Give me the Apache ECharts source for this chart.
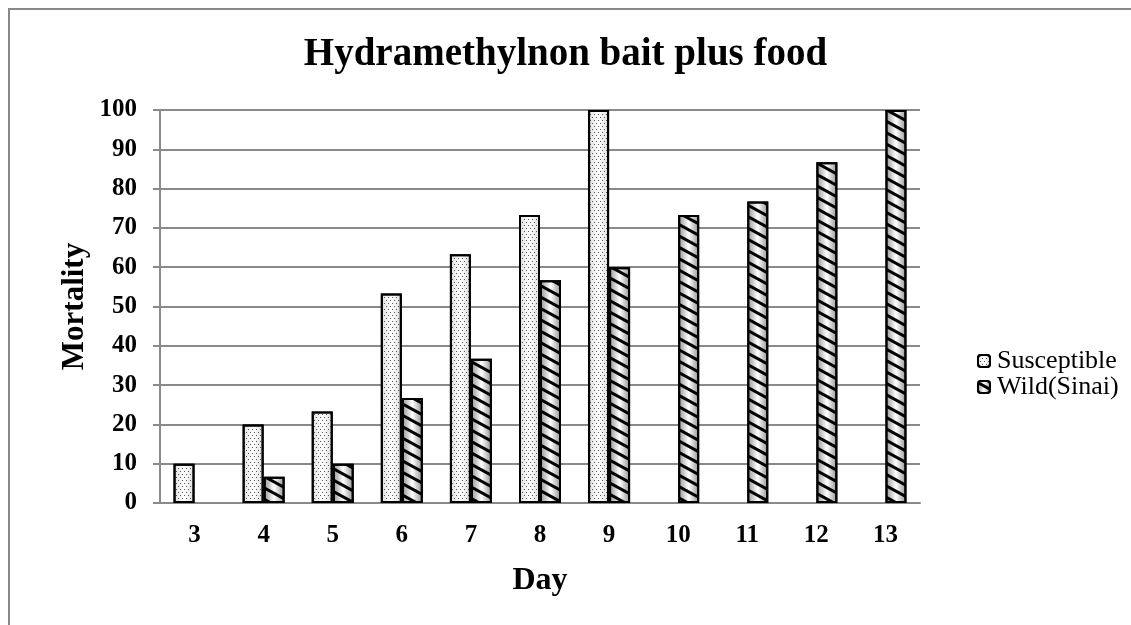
<!DOCTYPE html>
<html><head><meta charset="utf-8">
<script src="https://cdn.jsdelivr.net/npm/echarts@6/dist/echarts.min.js"></script>
<style>html,body{margin:0;padding:0;background:#fff}#c{width:1131px;height:625px}</style>
</head><body><div id="c"></div>
<script>
var days = ['3','4','5','6','7','8','9','10','11','12','13'];
var susceptible = [10, 20, 23.3, 53.3, 63.3, 73.3, 100, '-', '-', '-', '-'];
var wild = ['-', 6.7, 10, 26.7, 36.7, 56.7, 60, 73.3, 76.7, 86.7, 100];
var yTicks = {min: 0, max: 100, interval: 10};

var serif = "'Liberation Serif', 'Times New Roman', serif";
var chart = echarts.init(document.getElementById('c'), null, {renderer: 'canvas'});
var hGrad = function (edge, mid) {
  return new echarts.graphic.LinearGradient(0, 0, 1, 0, [
    {offset: 0, color: edge}, {offset: 0.5, color: mid}, {offset: 1, color: edge}
  ]);
};
chart.setOption({
  animation: false,
  backgroundColor: '#fff',
  title: {
    text: 'Hydramethylnon bait plus food',
    left: 'center', top: 30,
    textStyle: {fontFamily: serif, fontWeight: 'bold', fontSize: 39, color: '#000'}
  },
  graphic: [{
    type: 'rect', shape: {x: 9, y: 9, width: 1300, height: 800},
    style: {fill: 'none', stroke: '#888', lineWidth: 2}, z: -1
  }],
  legend: {
    orient: 'vertical', left: 972, top: 343, itemWidth: 12, itemHeight: 12, itemGap: 0,
    textStyle: {fontFamily: serif, fontSize: 26, color: '#000', lineHeight: 20, padding: [0, 0, 0, 2]},
    data: ['Susceptible', 'Wild(Sinai)']
  },
  grid: {left: 160, right: 211, top: 110, bottom: 122},
  xAxis: {
    type: 'category', data: days,
    name: 'Day', nameLocation: 'middle', nameGap: 62,
    nameTextStyle: {fontFamily: serif, fontWeight: 'bold', fontSize: 32, color: '#000'},
    axisLine: {lineStyle: {color: '#8a8a8a', width: 2}},
    axisTick: {show: false},
    axisLabel: {fontFamily: serif, fontWeight: 'bold', fontSize: 25, color: '#000', margin: 20}
  },
  yAxis: {
    type: 'value', min: yTicks.min, max: yTicks.max, interval: yTicks.interval,
    name: 'Mortality', nameLocation: 'middle', nameGap: 70, nameRotate: 90, nameMoveOverlap: false,
    nameTextStyle: {fontFamily: serif, fontWeight: 'bold', fontSize: 31, color: '#000'},
    axisLine: {show: true, lineStyle: {color: '#8a8a8a', width: 2}},
    axisTick: {show: true, length: 7, lineStyle: {color: '#8a8a8a', width: 2}},
    splitLine: {lineStyle: {color: '#8a8a8a', width: 2}},
    axisLabel: {fontFamily: serif, fontWeight: 'bold', fontSize: 25, color: '#000', margin: 23}
  },
  series: [{
    name: 'Susceptible', type: 'bar', data: susceptible,
    barWidth: 21, barGap: '0%',
    itemStyle: {
      color: hGrad('#dcdcdc', '#ffffff'), borderColor: '#000', borderWidth: 2,
      decal: {symbol: 'rect', symbolSize: 1, dashArrayX: [[1, 3], [0, 2, 1, 1]], dashArrayY: [1, 2], color: '#555'}
    }
  }, {
    name: 'Wild(Sinai)', type: 'bar', data: wild,
    barWidth: 21,
    itemStyle: {
      color: hGrad('#909090', '#ffffff'), borderColor: '#000', borderWidth: 2,
      decal: {symbol: 'rect', symbolSize: 1, dashArrayX: [1, 0], dashArrayY: [3, 7], rotation: 0.5, color: '#000'}
    }
  }]
});
</script></body></html>
